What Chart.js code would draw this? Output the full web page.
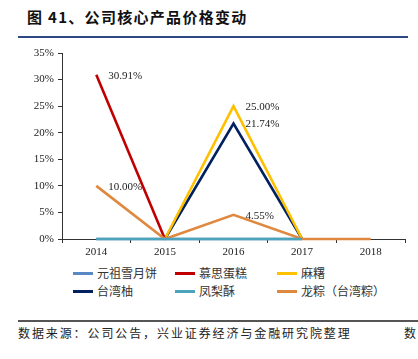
<!DOCTYPE html>
<html><head><meta charset="utf-8">
<script src="https://cdn.jsdelivr.net/npm/chart.js@4.4.1/dist/chart.umd.min.js"></script>
<style>
html,body{margin:0;padding:0;background:#fff;width:418px;height:359px;overflow:hidden;position:relative;font-family:"Noto Sans CJK SC",sans-serif;}
#title{position:absolute;left:27px;top:6px;font-size:15px;font-weight:bold;color:#111;letter-spacing:1.3px;white-space:nowrap;}
#tline{position:absolute;left:18px;top:36px;width:390px;height:2px;background:#2E4A86;}
#wrap{position:absolute;left:0;top:40px;width:418px;height:222px;}
#legend{position:absolute;left:0;top:264px;width:418px;height:40px;}
.li{position:absolute;font-size:12px;color:#333;white-space:nowrap;line-height:14px;}
.li span.sw{display:inline-block;width:20px;height:3px;vertical-align:middle;margin-right:4px;position:relative;top:-1px;}
#fline{position:absolute;left:18px;top:320px;width:400px;height:1.5px;background:#555;}
#src{position:absolute;left:18px;top:324px;font-size:12px;color:#222;letter-spacing:1.9px;white-space:nowrap;}
#src2{position:absolute;left:404px;top:324px;font-size:12px;color:#222;white-space:nowrap;}
</style></head>
<body>
<div id="title">图 41、公司核心产品价格变动</div>
<div id="tline"></div>
<div id="wrap"><canvas id="c" width="418" height="222"></canvas></div>
<div id="legend"></div>
<div id="fline"></div>
<div id="src">数据来源：公司公告，兴业证券经济与金融研究院整理</div>
<div id="src2">数</div>
<script>
const categories = ['2014','2015','2016','2017','2018'];
const seriesNames = ['元祖雪月饼','慕思蛋糕','麻糬','台湾柚','凤梨酥','龙粽（台湾粽）'];
const yuanzu   = [0, 0, 0, 0, null];
const musi     = [30.91, 0, null, null, null];
const mashu    = [null, 0, 25.00, 0, null];
const taiwanyou= [null, 0, 21.74, 0, null];
const fenglisu = [0, 0, 0, 0, null];
const longzong = [10.00, 0, 4.55, 0, 0];
const yTicks = [0,5,10,15,20,25,30,35];
const labelPoints = [
  {series:1, index:0, text:'30.91%'},
  {series:5, index:0, text:'10.00%'},
  {series:2, index:2, text:'25.00%'},
  {series:3, index:2, text:'21.74%'},
  {series:5, index:2, text:'4.55%'}
];
const colors = ['#5A88C6','#C00000','#FFC000','#002060','#4BA3BC','#DF883F'];
const allData = [yuanzu, musi, mashu, taiwanyou, fenglisu, longzong];
const orders = [1,1,1,1,-1,0];

const datasets = seriesNames.map((n,i)=>({
  label:n, data:allData[i], borderColor:colors[i], backgroundColor:colors[i],
  borderWidth:2.6, pointRadius:0, tension:0, spanGaps:false, order:orders[i], clip:false
}));

const labelPlugin = {
  id:'lbl',
  afterDatasetsDraw(chart){
    const ctx = chart.ctx;
    const xs = chart.scales.x, ys = chart.scales.y;
    ctx.save();
    ctx.font = '11px "Liberation Serif", serif';
    ctx.fillStyle = '#222';
    ctx.textAlign = 'left';
    ctx.textBaseline = 'middle';
    labelPoints.forEach(p=>{
      const v = allData[p.series][p.index];
      const x = xs.getPixelForValue(p.index);
      const y = ys.getPixelForValue(v);
      ctx.fillText(p.text, x + 12, y + 1);
    });
    ctx.restore();
  }
};

new Chart(document.getElementById('c'), {
  type:'line',
  data:{labels:categories, datasets},
  options:{
    responsive:false, animation:false,
    layout:{padding:{left:0,right:13,top:13,bottom:0}},
    plugins:{legend:{display:false}, tooltip:{enabled:false}},
    scales:{
      x:{
        offset:true,
        grid:{display:true, drawOnChartArea:false, drawTicks:true, tickLength:4, offset:true, color:'#333'},
        border:{display:true, color:'#333', width:1},
        ticks:{font:{family:'"Liberation Serif", serif', size:11}, color:'#222', padding:3, maxRotation:0},
        afterFit(s){ s.height = 23; }
      },
      y:{
        min:0, max:35,
        afterBuildTicks(s){ s.ticks = yTicks.map(v=>({value:v})); },
        grid:{display:true, drawOnChartArea:false, drawTicks:true, tickLength:4, color:'#333'},
        border:{display:true, color:'#333', width:1},
        ticks:{font:{family:'"Liberation Serif", serif', size:11}, color:'#222', padding:4, callback:v=>v+'%'},
        afterFit(s){ s.width = 62; }
      }
    }
  },
  plugins:[labelPlugin]
});

const lg = document.getElementById('legend');
const colX = [73,175,277];
seriesNames.forEach((n,i)=>{
  const d = document.createElement('div');
  d.className='li';
  d.style.left = colX[i%3]+'px';
  d.style.top = (Math.floor(i/3)*18+2)+'px';
  d.innerHTML = '<span class="sw" style="background:'+colors[i]+'"></span>'+n;
  lg.appendChild(d);
});
</script>
</body></html>
